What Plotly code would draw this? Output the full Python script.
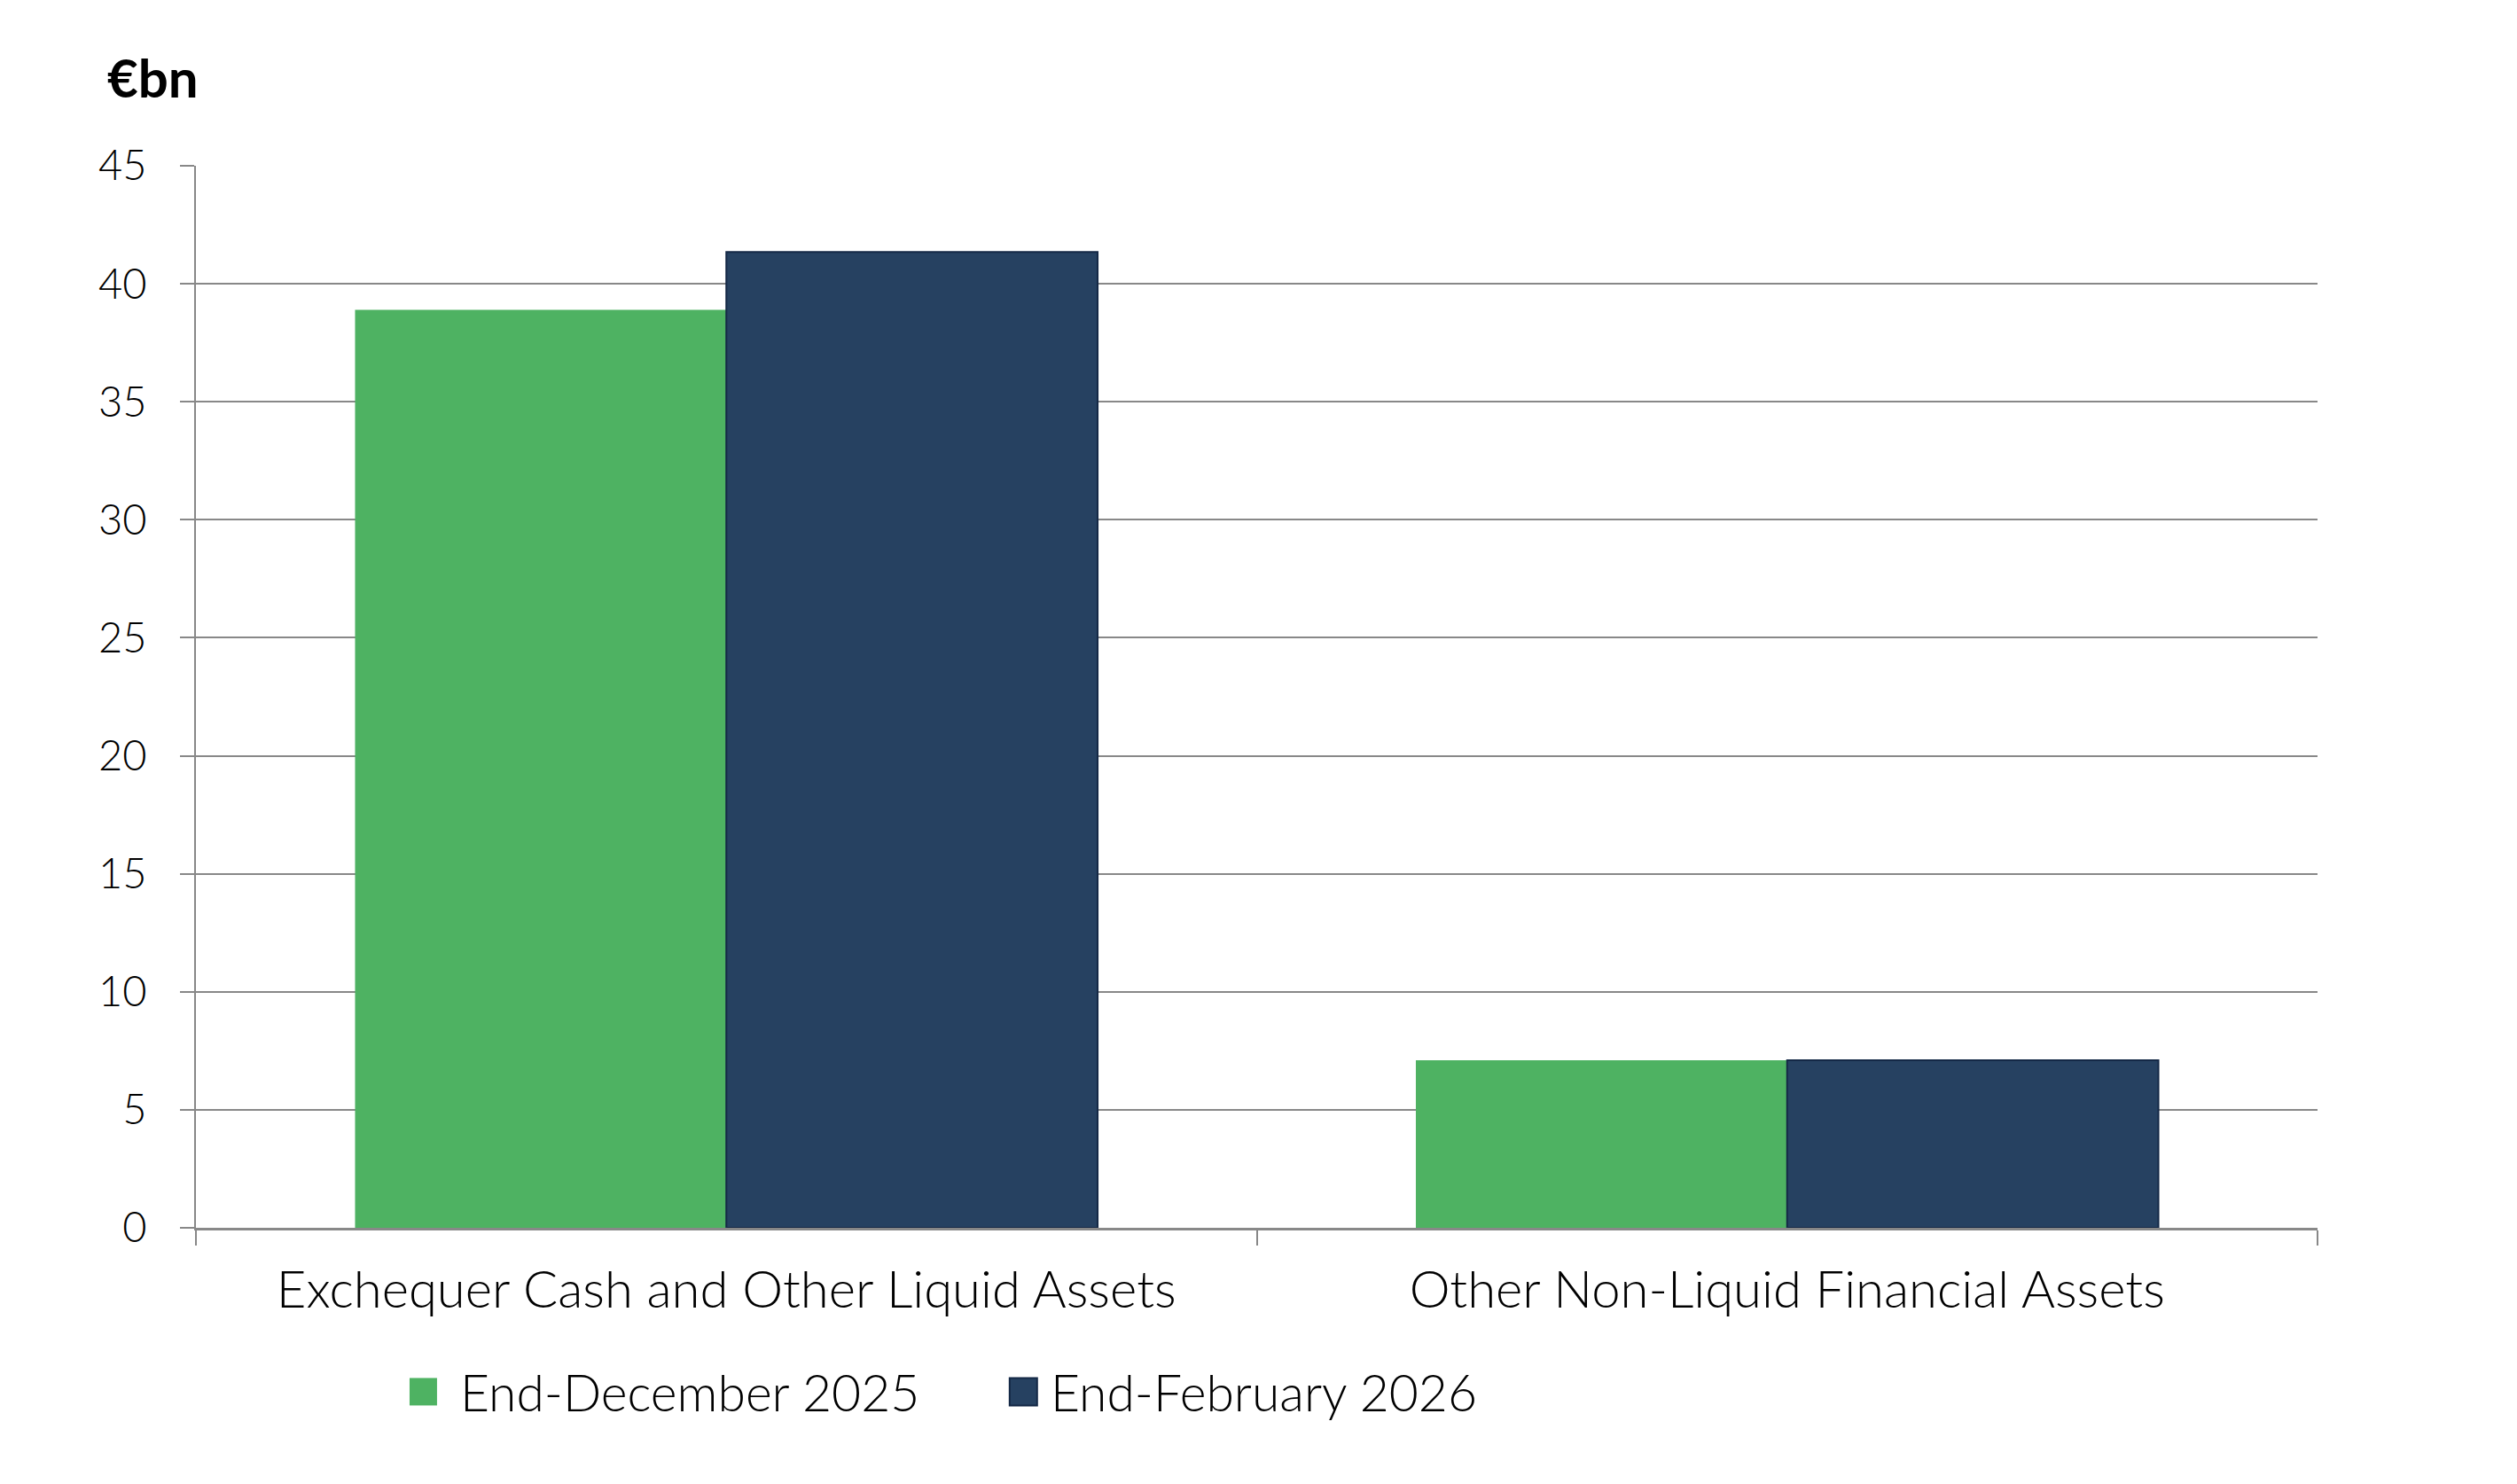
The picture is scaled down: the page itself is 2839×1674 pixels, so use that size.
import plotly.graph_objects as go

# ---- data ----
categories = ["Exchequer Cash and Other Liquid Assets", "Other Non-Liquid Financial Assets"]
series_names = ["End-December 2025", "End-February 2026"]
dec_2025 = [38.9, 7.1]
feb_2026 = [41.35, 7.1]
y_ticks = [0, 5, 10, 15, 20, 25, 30, 35, 40, 45]
unit_label = "€bn"

colors = ["#4EB262", "#264161"]
outline = ["#4EB262", "#142846"]

OFF = 8  # browser body margin
W, H = 2839 - OFF, 1674 - OFF
# plot area in page px
L, R, T, B = 221, 2614.5, 186.5, 1385

FONT = "Lato"
GRID = "#888888"
TXT = "#000000"

fig = go.Figure()
for name, vals, c, oc, lw in zip(series_names, [dec_2025, feb_2026], colors, outline, [0, 2]):
    fig.add_trace(go.Bar(
        x=categories, y=vals, name=name,
        marker=dict(color=c, line=dict(color=oc, width=lw)),
        showlegend=False,
    ))

def px2paper(x, y):
    return (x - L) / (R - L), (B - y) / (B - T)

# manual legend (swatches + labels), page px
legend_items = [(462, 517), (1139, 1183)]
sw = 31
for (sx, tx), name, c, oc, lw in zip(legend_items, series_names, colors, outline, [0, 2]):
    x0, y0 = px2paper(sx, 1570 + sw / 2)
    x1, y1 = px2paper(sx + sw, 1570 - sw / 2)
    fig.add_shape(type="rect", xref="paper", yref="paper", x0=x0, x1=x1, y0=y0, y1=y1,
                  fillcolor=c, line=dict(color=oc, width=lw if lw else 0))
    ax, ay = px2paper(tx, 1570)
    fig.add_annotation(xref="paper", yref="paper", x=ax, y=ay, text=name, showarrow=False,
                       xanchor="left", yanchor="middle",
                       font=dict(family=FONT, size=57, color=TXT, weight=300))

ux, uy = px2paper(119, 86)
fig.add_annotation(xref="paper", yref="paper", x=ux, y=uy, text="<b>" + unit_label + "</b>",
                   showarrow=False, xanchor="left", yanchor="middle",
                   font=dict(family=FONT, size=60, color="#000000"))

fig.update_layout(
    width=W, height=H,
    margin=dict(l=L - OFF, r=(2839 - R), t=T - OFF, b=(1674 - B), pad=0),
    paper_bgcolor="white", plot_bgcolor="white",
    barmode="group", bargap=0.3, bargroupgap=0,
    font=dict(family=FONT, size=47, color=TXT, weight=300),
)
fig.update_yaxes(
    range=[0, 45], tickvals=y_ticks, ticktext=[str(v) for v in y_ticks],
    showgrid=True, gridcolor=GRID, gridwidth=2,
    showline=True, linecolor=GRID, linewidth=2,
    ticks="outside", ticklen=16, tickwidth=2, tickcolor=GRID,
    ticklabelstandoff=28, zeroline=False,
    tickfont=dict(family=FONT, size=47, color=TXT, weight=300),
)
fig.update_xaxes(
    showline=True, linecolor=GRID, linewidth=3,
    ticks="outside", ticklen=17, tickwidth=2, tickcolor=GRID,
    tickson="boundaries", showgrid=False,
    ticklabelstandoff=17,
    tickfont=dict(family=FONT, size=58, color=TXT, weight=300),
)

fig.write_html("out.html")
